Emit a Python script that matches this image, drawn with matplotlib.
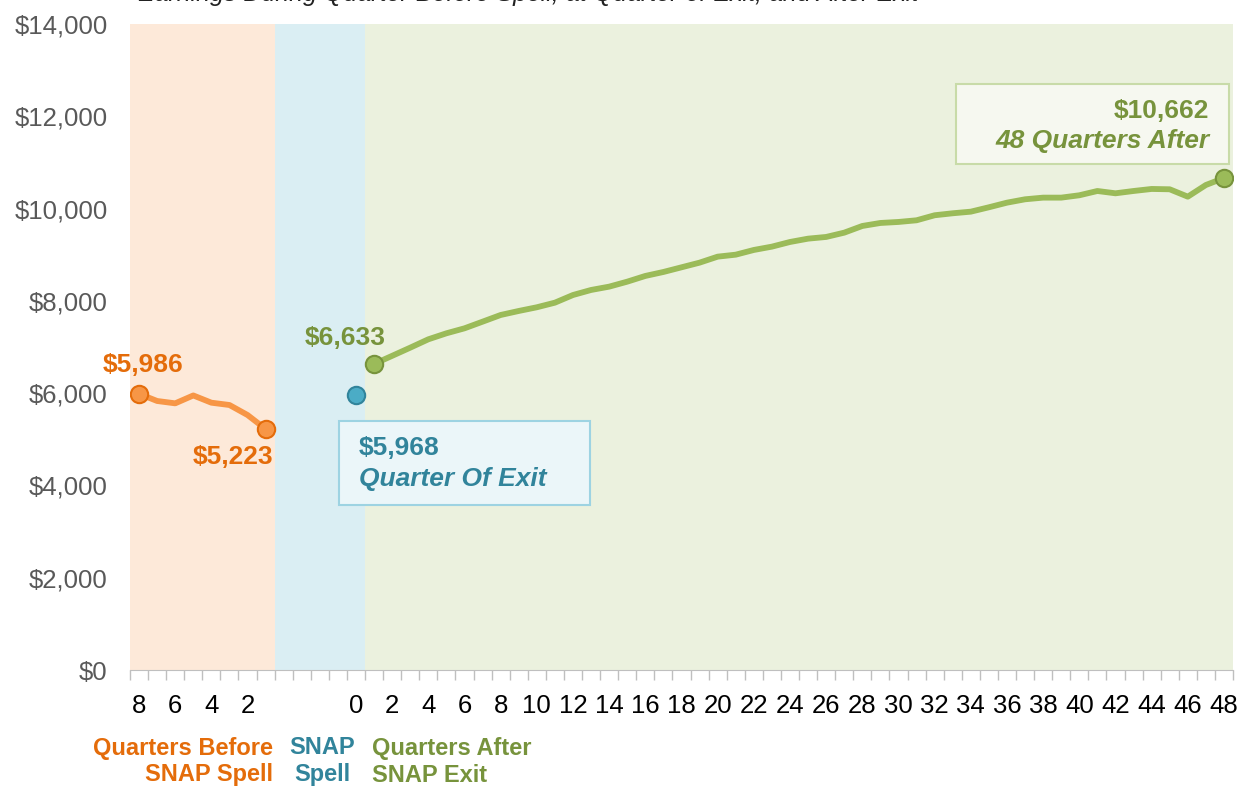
import matplotlib.pyplot as plt
from matplotlib.ticker import FuncFormatter

plt.rcParams['font.family'] = ['Liberation Sans', 'DejaVu Sans']

# quarters before the SNAP spell (8 ... 1)
before_q = [8, 7, 6, 5, 4, 3, 2, 1]
before_val = [5986, 5830, 5779, 5950, 5793, 5743, 5526, 5223]

# quarter of exit
exit_val = 5968

# quarters after SNAP exit (1 ... 48)
after_q = list(range(1, 49))
after_val = [6633, 6809, 6986, 7167, 7297, 7405, 7549, 7694, 7781, 7861,
             7961, 8127, 8236, 8308, 8416, 8540, 8626, 8727, 8828, 8958,
             9001, 9103, 9175, 9276, 9348, 9385, 9478, 9623, 9688, 9710,
             9746, 9855, 9898, 9933, 10028, 10128, 10201, 10237, 10237, 10288,
             10381, 10331, 10381, 10425, 10418, 10258, 10511, 10662]

y_ticks = list(range(0, 14001, 2000))

# colours
ORANGE_LINE = '#F79646'
ORANGE_TEXT = '#E46C0A'
BLUE_DOT = '#4BACC6'
BLUE_TEXT = '#31849B'
GREEN_LINE = '#9BBB59'
GREEN_TEXT = '#77933C'

# x positions: before quarters sit left of a 4-slot gap for the spell
gap = 4
bx = [-(q + gap) for q in before_q]
ax_pos = after_q

fig = plt.figure(figsize=(12.48, 7.88), dpi=100)
ax = fig.add_axes([130 / 1248, 118 / 788, 1103 / 1248, 646 / 788])

ax.axvspan(-12.5, -4.5, color='#FDE9D9', lw=0)
ax.axvspan(-4.5, 0.5, color='#DAEEF3', lw=0)
ax.axvspan(0.5, 48.5, color='#EBF1DE', lw=0)

ax.plot(bx, before_val, color=ORANGE_LINE, lw=4.2, solid_capstyle='round', zorder=3)
ax.plot([bx[0], bx[-1]], [before_val[0], before_val[-1]], 'o', ms=12.5,
        mfc=ORANGE_LINE, mec=ORANGE_TEXT, mew=1.5, zorder=4)

ax.plot([0], [exit_val], 'o', ms=12.5, mfc=BLUE_DOT, mec=BLUE_TEXT, mew=1.5, zorder=4)

ax.plot(ax_pos, after_val, color=GREEN_LINE, lw=4.2, solid_capstyle='round', zorder=3)
ax.plot([ax_pos[0], ax_pos[-1]], [after_val[0], after_val[-1]], 'o', ms=12.5,
        mfc=GREEN_LINE, mec=GREEN_TEXT, mew=1.5, zorder=4)

# value labels
ax.text(bx[0] + 0.25, before_val[0] + 620, f'${before_val[0]:,}', color=ORANGE_TEXT,
        fontsize=19, fontweight='bold', ha='center', va='center')
ax.text(-4.6, before_val[-1] - 600, f'${before_val[-1]:,}', color=ORANGE_TEXT,
        fontsize=19, fontweight='bold', ha='right', va='center')
ax.text(-0.6, after_val[0] + 560, f'${after_val[0]:,}', color=GREEN_TEXT,
        fontsize=19, fontweight='bold', ha='center', va='center')

# blue call-out box
ax.add_patch(plt.Rectangle((-0.95, 3580), 13.9, 1820, facecolor='#EBF6F9',
                           edgecolor='#9DD3E2', lw=1.5, zorder=5))
ax.text(0.15, 4820, f'${exit_val:,}', color=BLUE_TEXT, fontsize=19,
        fontweight='bold', ha='left', va='center', zorder=6)
ax.text(0.15, 4130, 'Quarter Of Exit', color=BLUE_TEXT, fontsize=19,
        fontweight='bold', style='italic', ha='left', va='center', zorder=6)

# green call-out box
ax.add_patch(plt.Rectangle((33.2, 10970), 15.1, 1720, facecolor='#F6F8F0',
                           edgecolor='#C8DBA8', lw=1.5, zorder=5))
ax.text(47.2, 12120, f'${after_val[-1]:,}', color=GREEN_TEXT, fontsize=19,
        fontweight='bold', ha='right', va='center', zorder=6)
ax.text(47.2, 11460, '48 Quarters After', color=GREEN_TEXT, fontsize=19,
        fontweight='bold', style='italic', ha='right', va='center', zorder=6)

ax.set_xlim(-12.5, 48.5)
ax.set_ylim(0, 14000)
ax.set_yticks(y_ticks)
ax.yaxis.set_major_formatter(FuncFormatter(lambda v, p: f'${v:,.0f}'))

xt = [-12, -10, -8, -6] + list(range(0, 49, 2))
xl = ['8', '6', '4', '2'] + [str(v) for v in range(0, 49, 2)]
ax.set_xticks(xt)
ax.set_xticklabels(xl)
ax.set_xticks([v + 0.5 for v in range(-13, 49)], minor=True)
ax.tick_params(axis='x', which='major', length=0, pad=17, labelsize=18.5, labelcolor='black')
ax.tick_params(axis='x', which='minor', length=7, color='#BFBFBF', width=1)
ax.tick_params(axis='y', length=0, pad=16, labelsize=18.5, labelcolor='#595959')

for s in ['top', 'right', 'left']:
    ax.spines[s].set_visible(False)
ax.spines['bottom'].set_color('#BFBFBF')

# category labels under the axis
def cat_label(x, lines, color, ha):
    for y, line in zip([748, 775], lines):
        fig.text(x / 1248, 1 - y / 788, line, color=color, fontsize=17,
                 fontweight='bold', ha=ha, va='center')

cat_label(273, ['Quarters Before', 'SNAP Spell'], ORANGE_TEXT, 'right')
cat_label(322, ['SNAP', 'Spell'], BLUE_TEXT, 'center')
cat_label(372, ['Quarters After', 'SNAP Exit'], GREEN_TEXT, 'left')

# clipped chart title at the very top (cut off in the source image too)
fig.text(528 / 1248, 1 - 1.5 / 788,
         'Earnings During Quarter Before Spell, at Quarter of Exit, and After Exit',
         fontsize=18, style='italic', ha='center', va='baseline', color='#222222')

fig.savefig('out.png', dpi=100)
